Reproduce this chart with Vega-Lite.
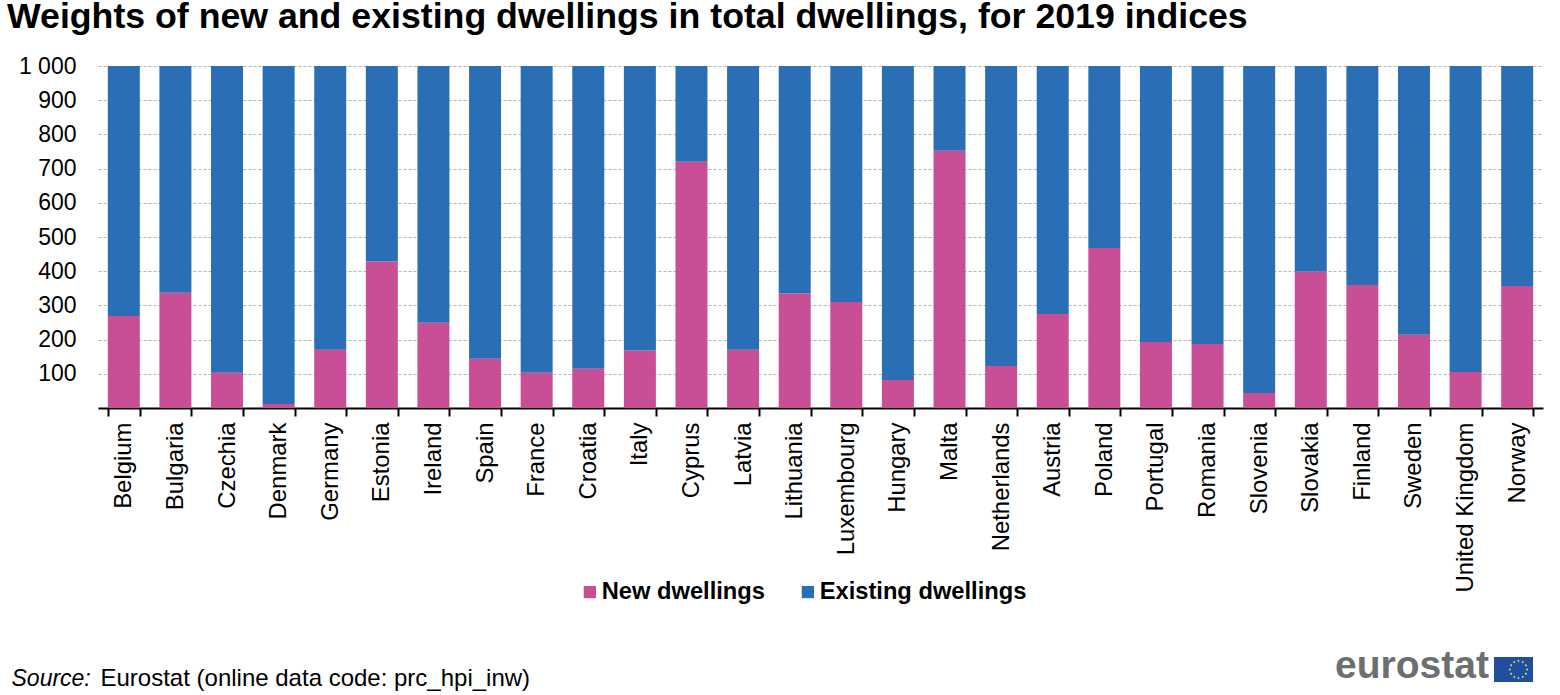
{
  "$schema": "https://vega.github.io/schema/vega-lite/v6.json",
  "width": 1445,
  "height": 342,
  "autosize": "none",
  "padding": {"left": 98, "top": 66, "right": 17, "bottom": 287},
  "background": "white",
  "title": {
    "text": "Weights of new and existing dwellings in total dwellings, for 2019 indices",
    "anchor": "start",
    "frame": "group",
    "dx": -91,
    "offset": 19,
    "font": "Liberation Sans",
    "fontSize": 35.7,
    "fontWeight": "bold",
    "color": "black"
  },
  "config": {
    "view": {"stroke": null},
    "font": "Liberation Sans"
  },
  "datasets": {
    "weights": [
      {"country": "Belgium", "type": "New dwellings", "weight": 269},
      {"country": "Bulgaria", "type": "New dwellings", "weight": 337},
      {"country": "Czechia", "type": "New dwellings", "weight": 103},
      {"country": "Denmark", "type": "New dwellings", "weight": 12},
      {"country": "Germany", "type": "New dwellings", "weight": 170},
      {"country": "Estonia", "type": "New dwellings", "weight": 428},
      {"country": "Ireland", "type": "New dwellings", "weight": 249},
      {"country": "Spain", "type": "New dwellings", "weight": 144},
      {"country": "France", "type": "New dwellings", "weight": 103},
      {"country": "Croatia", "type": "New dwellings", "weight": 115},
      {"country": "Italy", "type": "New dwellings", "weight": 168},
      {"country": "Cyprus", "type": "New dwellings", "weight": 720},
      {"country": "Latvia", "type": "New dwellings", "weight": 170},
      {"country": "Lithuania", "type": "New dwellings", "weight": 335},
      {"country": "Luxembourg", "type": "New dwellings", "weight": 310},
      {"country": "Hungary", "type": "New dwellings", "weight": 82},
      {"country": "Malta", "type": "New dwellings", "weight": 752},
      {"country": "Netherlands", "type": "New dwellings", "weight": 123},
      {"country": "Austria", "type": "New dwellings", "weight": 275},
      {"country": "Poland", "type": "New dwellings", "weight": 468},
      {"country": "Portugal", "type": "New dwellings", "weight": 193},
      {"country": "Romania", "type": "New dwellings", "weight": 187},
      {"country": "Slovenia", "type": "New dwellings", "weight": 44},
      {"country": "Slovakia", "type": "New dwellings", "weight": 399},
      {"country": "Finland", "type": "New dwellings", "weight": 360},
      {"country": "Sweden", "type": "New dwellings", "weight": 214},
      {"country": "United Kingdom", "type": "New dwellings", "weight": 105},
      {"country": "Norway", "type": "New dwellings", "weight": 357},
      {"country": "Belgium", "type": "Existing dwellings", "weight": 731},
      {"country": "Bulgaria", "type": "Existing dwellings", "weight": 663},
      {"country": "Czechia", "type": "Existing dwellings", "weight": 897},
      {"country": "Denmark", "type": "Existing dwellings", "weight": 988},
      {"country": "Germany", "type": "Existing dwellings", "weight": 830},
      {"country": "Estonia", "type": "Existing dwellings", "weight": 572},
      {"country": "Ireland", "type": "Existing dwellings", "weight": 751},
      {"country": "Spain", "type": "Existing dwellings", "weight": 856},
      {"country": "France", "type": "Existing dwellings", "weight": 897},
      {"country": "Croatia", "type": "Existing dwellings", "weight": 885},
      {"country": "Italy", "type": "Existing dwellings", "weight": 832},
      {"country": "Cyprus", "type": "Existing dwellings", "weight": 280},
      {"country": "Latvia", "type": "Existing dwellings", "weight": 830},
      {"country": "Lithuania", "type": "Existing dwellings", "weight": 665},
      {"country": "Luxembourg", "type": "Existing dwellings", "weight": 690},
      {"country": "Hungary", "type": "Existing dwellings", "weight": 918},
      {"country": "Malta", "type": "Existing dwellings", "weight": 248},
      {"country": "Netherlands", "type": "Existing dwellings", "weight": 877},
      {"country": "Austria", "type": "Existing dwellings", "weight": 725},
      {"country": "Poland", "type": "Existing dwellings", "weight": 532},
      {"country": "Portugal", "type": "Existing dwellings", "weight": 807},
      {"country": "Romania", "type": "Existing dwellings", "weight": 813},
      {"country": "Slovenia", "type": "Existing dwellings", "weight": 956},
      {"country": "Slovakia", "type": "Existing dwellings", "weight": 601},
      {"country": "Finland", "type": "Existing dwellings", "weight": 640},
      {"country": "Sweden", "type": "Existing dwellings", "weight": 786},
      {"country": "United Kingdom", "type": "Existing dwellings", "weight": 895},
      {"country": "Norway", "type": "Existing dwellings", "weight": 643}
    ]
  },
  "layer": [
    {
      "data": {"name": "weights"},
      "transform": [
        {"calculate": "datum.type === 'New dwellings' ? 0 : 1", "as": "stack_order"}
      ],
      "mark": {"type": "bar"},
      "encoding": {
        "x": {
          "field": "country",
          "type": "nominal",
          "sort": null,
          "scale": {"paddingInner": 0.38, "paddingOuter": 0.19},
          "axis": {
            "title": "Eurostat (online data code: prc_hpi_inw)",
            "titleFont": "Liberation Sans",
            "titleFontSize": 24,
            "titleFontWeight": "normal",
            "titleColor": "black",
            "titleAlign": "left",
            "titleBaseline": "alphabetic",
            "titleAnchor": "start",
            "titleX": 2,
            "titleY": 277,
            "labelAngle": -90,
            "labelAlign": "right",
            "labelBaseline": "middle",
            "labelFontSize": 23.9,
            "labelColor": "black",
            "labelPadding": 6,
            "labelOverlap": false,
            "labelLimit": 300,
            "domainColor": "black",
            "domainWidth": 2,
            "tickColor": "black",
            "tickWidth": 2,
            "tickSize": 8,
            "tickBand": "extent",
            "grid": false
          }
        },
        "y": {
          "field": "weight",
          "type": "quantitative",
          "stack": "zero",
          "scale": {"domain": [0, 1000], "nice": false},
          "axis": {
            "title": "Source:",
            "titleFont": "Liberation Sans",
            "titleFontSize": 23,
            "titleFontWeight": "normal",
            "titleFontStyle": "italic",
            "titleColor": "black",
            "titleAngle": 0,
            "titleAlign": "left",
            "titleBaseline": "alphabetic",
            "titleX": -87,
            "titleY": 619,
            "values": [100, 200, 300, 400, 500, 600, 700, 800, 900, 1000],
            "labelExpr": "replace(format(datum.value, ','), ',', ' ')",
            "labelFontSize": 23,
            "labelColor": "black",
            "labelPadding": 22,
            "domain": false,
            "ticks": false,
            "grid": true,
            "gridColor": "#b5b5b5",
            "gridDash": [3, 2],
            "gridWidth": 1
          }
        },
        "color": {
          "field": "type",
          "type": "nominal",
          "scale": {
            "domain": ["New dwellings", "Existing dwellings"],
            "range": ["#c84f96", "#2a6fb5"]
          },
          "legend": {
            "title": null,
            "orient": "none",
            "direction": "horizontal",
            "columns": 2,
            "legendX": 480,
            "legendY": 514,
            "symbolType": "square",
            "symbolSize": 150,
            "symbolStrokeWidth": 0,
            "labelFontSize": 23.7,
            "labelFontWeight": "bold",
            "labelColor": "black",
            "labelLimit": 400,
            "labelOffset": 0,
            "columnPadding": 31
          }
        },
        "order": {"field": "stack_order", "type": "quantitative"}
      }
    },
    {
      "data": {"values": [{"logo": "flag"}]},
      "transform": [{"filter": "false"}],
      "mark": {"type": "point", "filled": true, "opacity": 1},
      "encoding": {
        "shape": {
          "field": "logo",
          "type": "nominal",
          "scale": {
            "domain": ["flag"],
            "range": ["M-1 -0.64 L1 -0.64 L1 0.64 L-1 0.64 Z"]
          },
          "legend": {
            "title": "eurostat",
            "titleOrient": "left",
            "titleFont": "Liberation Sans",
            "titleFontSize": 39,
            "titleFontWeight": "bold",
            "titleColor": "#6d6e71",
            "titlePadding": 5,
            "orient": "none",
            "legendX": 1237,
            "legendY": 584,
            "symbolSize": 1521,
            "symbolOpacity": 1,
            "symbolStrokeWidth": 0,
            "labelExpr": "''",
            "labelFontSize": 1,
            "zindex": 1
          }
        },
        "fill": {
          "field": "logo",
          "type": "nominal",
          "scale": {"domain": ["flag"], "range": ["#1f4f9e"]},
          "legend": null
        }
      }
    },
    {
      "data": {"values": [{"logo": "stars"}]},
      "transform": [{"filter": "false"}],
      "mark": {"type": "point", "filled": true, "opacity": 1},
      "encoding": {
        "shape": {
          "field": "logo",
          "type": "nominal",
          "scale": {
            "domain": ["stars"],
            "range": ["M0 -0.5L0.06 -0.44L0 -0.38L-0.06 -0.44ZM0.22 -0.44L0.28 -0.38L0.22 -0.32L0.16 -0.38ZM0.38 -0.28L0.44 -0.22L0.38 -0.16L0.32 -0.22ZM0.44 -0.06L0.5 0L0.44 0.06L0.38 0ZM0.38 0.16L0.44 0.22L0.38 0.28L0.32 0.22ZM0.22 0.32L0.28 0.38L0.22 0.44L0.16 0.38ZM0 0.38L0.06 0.44L0 0.5L-0.06 0.44ZM-0.22 0.32L-0.16 0.38L-0.22 0.44L-0.28 0.38ZM-0.38 0.16L-0.32 0.22L-0.38 0.28L-0.44 0.22ZM-0.44 -0.06L-0.38 0L-0.44 0.06L-0.5 0ZM-0.38 -0.28L-0.32 -0.22L-0.38 -0.16L-0.44 -0.22ZM-0.22 -0.44L-0.16 -0.38L-0.22 -0.32L-0.28 -0.38Z"]
          },
          "legend": {
            "title": null,
            "orient": "none",
            "legendX": 1401,
            "legendY": 584,
            "symbolSize": 1521,
            "symbolOpacity": 1,
            "symbolStrokeWidth": 0,
            "labelExpr": "''",
            "labelFontSize": 1,
            "zindex": 2
          }
        },
        "fill": {
          "field": "logo",
          "type": "nominal",
          "scale": {"domain": ["stars"], "range": ["#ffe14d"]},
          "legend": null
        }
      }
    }
  ],
  "resolve": {"scale": {"shape": "independent", "fill": "independent"}}
}
